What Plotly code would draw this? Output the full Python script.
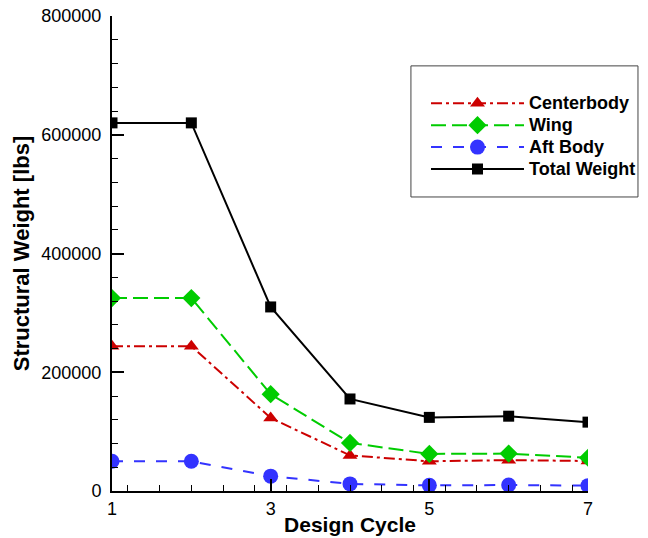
import plotly.graph_objects as go

cycles = [1, 2, 3, 4, 5, 6, 7]
centerbody = [244000, 244000, 123000, 60000, 50000, 52000, 50500]
wing = [325000, 325000, 163000, 81000, 62500, 63000, 56000]
aft_body = [50000, 50000, 25000, 12000, 9500, 10000, 9000]
total_weight = [620000, 620000, 310000, 155000, 124000, 126000, 116000]
series_names = ["Centerbody", "Wing", "Aft Body", "Total Weight"]

FONT = "Liberation Sans, Arial, sans-serif"


def lbl(s):
    return '<span style="font-size:18px">' + s + "</span>"


fig = go.Figure()
fig.add_trace(go.Scatter(
    x=cycles, y=centerbody, name=lbl(series_names[0]), mode="lines+markers",
    line=dict(color="#cc0000", width=2, dash="11px,4px,3px,4px"),
    marker=dict(symbol="triangle-up", size=13, color="#cc0000")))
fig.add_trace(go.Scatter(
    x=cycles, y=wing, name=lbl(series_names[1]), mode="lines+markers",
    line=dict(color="#00cc00", width=2, dash="15px,6px"),
    marker=dict(symbol="diamond", size=14, color="#00cc00")))
fig.add_trace(go.Scatter(
    x=cycles, y=aft_body, name=lbl(series_names[2]), mode="lines+markers",
    line=dict(color="#3333ff", width=2, dash="11px,11px"),
    marker=dict(symbol="circle", size=15, color="#3333ff")))
fig.add_trace(go.Scatter(
    x=cycles, y=total_weight, name=lbl(series_names[3]), mode="lines+markers",
    line=dict(color="black", width=2),
    marker=dict(symbol="square", size=11, color="black")))

axis_common = dict(
    showgrid=False, zeroline=False, showline=True, linecolor="black", linewidth=2,
    ticks="inside", ticklen=12, tickwidth=2, tickcolor="black",
    tickfont=dict(family=FONT, size=18, color="black"),
    mirror=False, automargin=False,
)

fig.update_layout(
    width=648, height=538,
    margin=dict(l=112, r=60, t=16, b=47, autoexpand=False),
    paper_bgcolor="white", plot_bgcolor="white",
    font=dict(family=FONT, color="black"),
    xaxis=dict(
        range=[1, 7], tick0=1, dtick=2, ticklabelstandoff=0,
        minor=dict(dtick=0.4, ticklen=6, tickwidth=1, tickcolor="black", ticks="inside"),
        title=dict(text="<b>Design Cycle</b>", font=dict(family=FONT, size=21), standoff=0),
        **axis_common),
    yaxis=dict(
        range=[0, 800000], tick0=0, dtick=200000, tickformat="d", ticklabelstandoff=5,
        minor=dict(dtick=40000, ticklen=6, tickwidth=1, tickcolor="black", ticks="inside"),
        title=dict(text="<b>Structural Weight [lbs]</b>", font=dict(family=FONT, size=22), standoff=6),
        **axis_common),
    showlegend=True,
    legend=dict(
        xref="container", yref="container",
        x=0.6574, y=0.838, xanchor="left", yanchor="top",
        bgcolor="rgba(0,0,0,0)", borderwidth=0,
        font=dict(family=FONT, size=14.6, color="black", weight="bold"),
        itemwidth=93, tracegroupgap=0,
    ),
    shapes=[dict(type="rect", xref="paper", yref="paper",
                 x0=0.628, x1=1.105, y0=0.619, y1=0.895,
                 line=dict(color="#444444", width=1), fillcolor="rgba(0,0,0,0)")],
)

fig.write_html("out.html")
